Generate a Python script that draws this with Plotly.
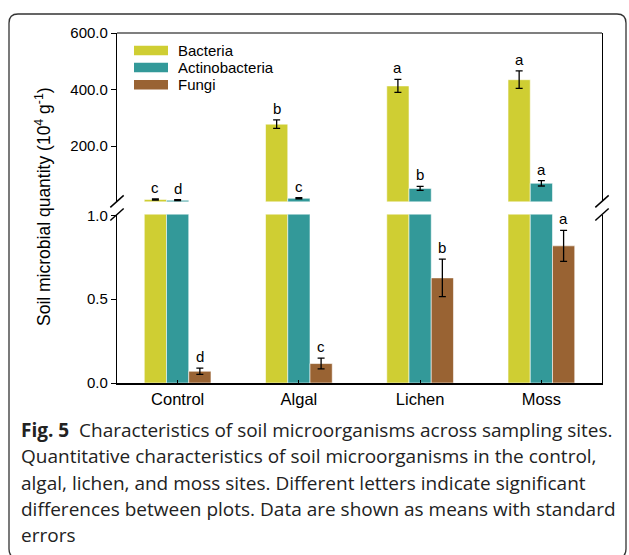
import plotly.graph_objects as go

sites = ["Control", "Algal", "Lichen", "Moss"]
series = ["Bacteria", "Actinobacteria", "Fungi"]
bacteria = [12, 278, 413, 435]
bacteria_se = [2, 15, 23, 31]
actino = [9, 16, 51, 69]
actino_se = [2, 2, 7, 9.5]
fungi = [0.070, 0.116, 0.627, 0.818]
fungi_se = [0.019, 0.032, 0.112, 0.092]
bacteria_letters = ["c", "b", "a", "a"]
actino_letters = ["d", "c", "b", "a"]
fungi_letters = ["d", "c", "b", "a"]
top_ticks = [200, 400, 600]
bottom_ticks = [0.0, 0.5, 1.0]
colors = ["#CFCE33", "#339999", "#996333"]
caption_lines = [
    "<b>Fig. 5</b>  Characteristics of soil microorganisms across sampling sites.",
    "Quantitative characteristics of soil microorganisms in the control,",
    "algal, lichen, and moss sites. Different letters indicate significant",
    "differences between plots. Data are shown as means with standard",
    "errors",
]

W, H = 629, 555
ML, MR, MT, MB = 117, 27, 33, 172
PW, PH = W - ML - MR, H - MT - MB

def px(x):
    return (x - ML) / PW

def py(y):
    return (H - MB - y) / PH

bottom_dom = [0, py(214.5)]
top_dom = [py(201.4), 1]

SANS = "Liberation Sans"

fig = go.Figure()
edge = dict(width=0.8, color="rgba(255,255,255,0.7)")
err_style = dict(type="data", color="black", thickness=1.3, width=3.5)

vals = [bacteria, actino, fungi]
errs = [bacteria_se, actino_se, fungi_se]
for i, name in enumerate(series):
    fig.add_trace(go.Bar(
        x=sites, y=vals[i], name=name, marker=dict(color=colors[i], line=edge),
        error_y=dict(array=errs[i], **err_style) if i == 2 else None,
        xaxis="x", yaxis="y", showlegend=False))
for i, name in enumerate(series):
    fig.add_trace(go.Bar(
        x=sites, y=vals[i], name=name, marker=dict(color=colors[i], line=edge),
        error_y=dict(array=errs[i], **err_style) if i < 2 else None,
        xaxis="x2", yaxis="y2", showlegend=False))

bw = (1 - 0.45) / 3
annotations = []
lfont = dict(family=SANS, size=15, color="black")
for j in range(len(sites)):
    annotations.append(dict(x=j - bw, y=bacteria[j] + bacteria_se[j], xref="x2", yref="y2",
                            text=bacteria_letters[j], showarrow=False, yanchor="bottom",
                            yshift=1, font=lfont))
    annotations.append(dict(x=j, y=actino[j] + actino_se[j], xref="x2", yref="y2",
                            text=actino_letters[j], showarrow=False, yanchor="bottom",
                            yshift=1, font=lfont))
    annotations.append(dict(x=j + bw, y=fungi[j] + fungi_se[j], xref="x", yref="y",
                            text=fungi_letters[j], showarrow=False, yanchor="bottom",
                            yshift=1, font=lfont))

annotations.append(dict(x=px(43), y=py(207), xref="paper", yref="paper",
                        xanchor="center", yanchor="middle",
                        text="Soil microbial quantity (10<sup>4</sup> g<sup>-1</sup>)",
                        textangle=-90, showarrow=False,
                        font=dict(family=SANS, size=17.5, color="black")))

shapes = []
leg_rows = [50.5, 67.5, 84.7]
for i, name in enumerate(series):
    shapes.append(dict(type="rect", xref="paper", yref="paper",
                       x0=px(134), x1=px(168), y0=py(leg_rows[i] + 4.8), y1=py(leg_rows[i] - 4.8),
                       fillcolor=colors[i], line=dict(width=0)))
    annotations.append(dict(x=px(176), y=py(leg_rows[i]), xref="paper", yref="paper",
                            text=name, showarrow=False, xanchor="left", yanchor="middle",
                            font=lfont))

shapes.append(dict(type="line", xref="paper", yref="paper", x0=0, x1=1, y0=1, y1=1,
                   line=dict(color="black", width=1.2)))
for xb in (0, 1):
    for yb in (top_dom[0], bottom_dom[1]):
        shapes.append(dict(type="line", xref="paper", yref="paper",
                           x0=xb - 6.7 / PW, x1=xb + 6.7 / PW,
                           y0=yb - 6 / PH, y1=yb + 6 / PH,
                           line=dict(color="black", width=1.5)))

l, t, r, b, rad = 9, 14, 626, 558, 9
path = (f"M {px(l)},{py(b - rad)} L {px(l)},{py(t + rad)} "
        f"Q {px(l)},{py(t)} {px(l + rad)},{py(t)} "
        f"L {px(r - rad)},{py(t)} Q {px(r)},{py(t)} {px(r)},{py(t + rad)} "
        f"L {px(r)},{py(b - rad)} Q {px(r)},{py(b)} {px(r - rad)},{py(b)} "
        f"L {px(l + rad)},{py(b)} Q {px(l)},{py(b)} {px(l)},{py(b - rad)} Z")
shapes.append(dict(type="path", xref="paper", yref="paper", path=path,
                   line=dict(color="#333333", width=1.3)))

cap_y = [430, 456, 482.5, 508.5, 535]
for line, yc in zip(caption_lines, cap_y):
    annotations.append(dict(x=px(19), y=py(yc), xref="paper", yref="paper",
                            text=line, showarrow=False, xanchor="left", yanchor="middle",
                            align="left",
                            font=dict(family="Open Sans", size=19, color="#222222")))

axis_font = dict(family=SANS, size=15, color="black")
fig.update_layout(
    width=W, height=H,
    margin=dict(l=ML, r=MR, t=MT, b=MB, pad=0),
    paper_bgcolor="white", plot_bgcolor="white",
    barmode="group", bargap=0.45, bargroupgap=0,
    xaxis=dict(domain=[0, 1], anchor="y", showline=True, linecolor="black", linewidth=1.5,
               ticks="inside", ticklen=3, tickcolor="black", showgrid=False,
               tickfont=dict(family=SANS, size=16.5, color="black")),
    xaxis2=dict(domain=[0, 1], anchor="y2", matches="x", visible=False),
    yaxis=dict(domain=bottom_dom, range=[0, 1.005], tickvals=bottom_ticks, tickformat=".1f",
               showline=True, mirror=True, linecolor="black", linewidth=1.2,
               ticks="outside", ticklen=5, tickcolor="black", showgrid=False, zeroline=False,
               tickfont=axis_font),
    yaxis2=dict(domain=top_dom, range=[5, 600], tickvals=top_ticks, tickformat=".1f",
                showline=True, mirror=True, linecolor="black", linewidth=1.2,
                ticks="outside", ticklen=5, tickcolor="black", showgrid=False, zeroline=False,
                tickfont=axis_font),
    annotations=annotations, shapes=shapes,
)

fig.write_html("out.html", config={"displayModeBar": False},
               post_script="document.body.style.margin='0';document.body.style.overflow='hidden';")
